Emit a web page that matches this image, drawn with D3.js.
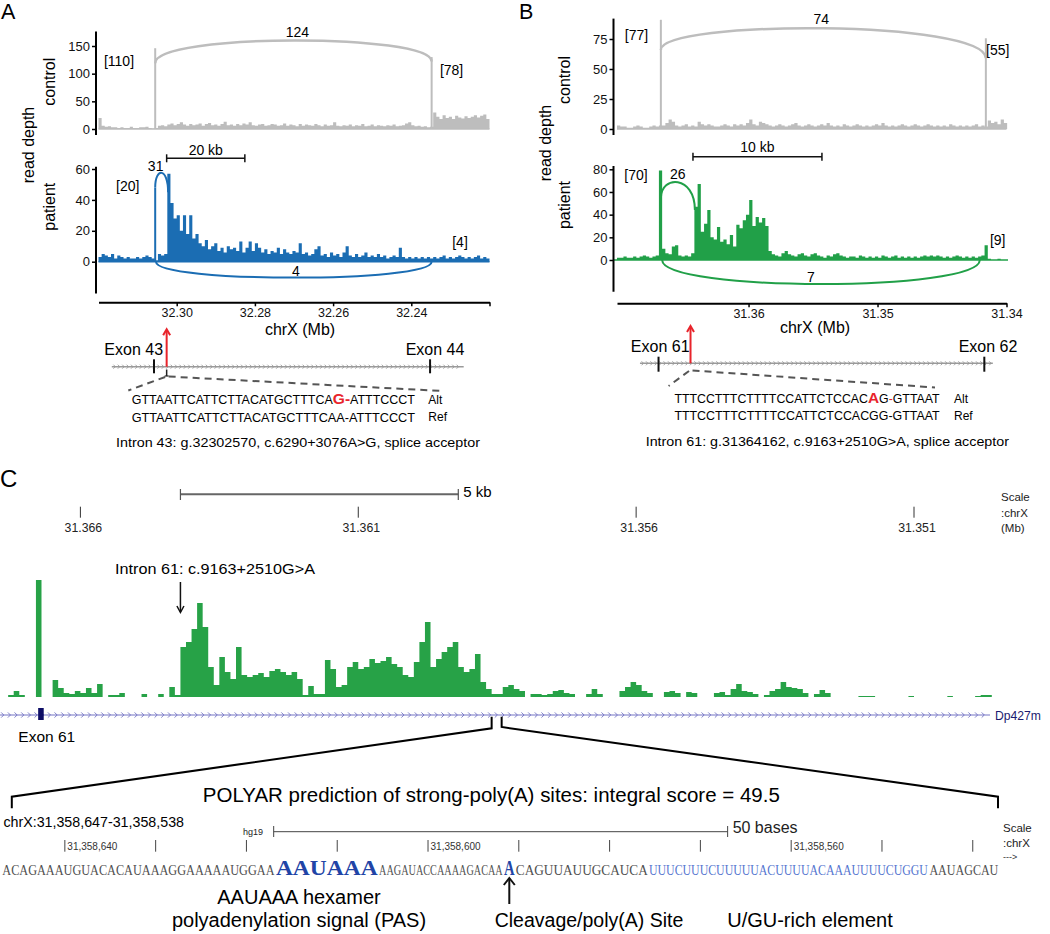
<!DOCTYPE html>
<html><head><meta charset="utf-8">
<script src="https://cdn.jsdelivr.net/npm/d3@7"></script>
<style>
html,body{margin:0;padding:0;background:#fff}
svg{display:block}
</style></head><body>
<svg id="fig" width="1050" height="934"></svg>
<script>
// ---------------- DATA ----------------
// Panel A (intron 43), coverage bins of 0.8 kb starting at 32.32 Mb going down
const aStart = 32.32, aStep = 0.0008;
const aControl = [20,6,4,5,3,3,2,3,2,2,4,2,2,3,3,4,2,1,2,
 6,7,5,8,10,7,9,12,8,6,9,7, 8,10,6,9,11,7,8,6,9,13,7,8, 6,9,7,10,8,12,7,6,8,9,6,7,
 9,8,6,7,10,6,8,7,5,9,6,8, 7,6,9,7,5,8,6,7,12,6,5,7, 6,8,5,7,6,9,5,6,8,5,7,6,
 5,7,6,8,5,6,7,10,12,7,5,6, 4,5,3,4,
 30,22,18,25,20,22,18,24,21,19,23,20,22,25,21,24,26,18];
const aPatient = [3,5,4,3,5,2,4,3,2,3,2,2,3,2,3,4,3,2, 1, 5,4,5, 57,
 38,28,30,20,30,18,30,15,18,12,10,14,8,
 10,12,7,9,6,10,8,9,7,13,6,9,13,7,12,9,6,8,5,7,6,9,5,8,6,5,7,6,12,5,6,
 4,5,8,10,4,5,3,6,4,5,3,6,10,4,3,5,3,4,6,3,4,3,5,3,4,2,3,4,3,9,3,2,3,2,3,2,3,2,3,2,
 3,2,3,4,2,3,2,3,4,3,2,3,2,3,4,2,3,2];
const aTicks = [32.30, 32.28, 32.26, 32.24, 32.22];
const aTickLabels = ["32.30", "32.28", "32.26", "32.24", ""];
const aControlTicks = [0, 50, 100, 150];
const aPatientTicks = [0, 20, 40, 60];
// exon-edge spikes [position Mb, depth]
const aControlSpikes = [[32.3055, 146], [32.2348, 130]];
const aPatientSpikes = [[32.3055, 48]];
// junctions [from Mb, to Mb, start depth, end depth, apex depth, reads]
const aControlArcs = [[32.3055, 32.2348, 119, 122, 160, 124]];
const aPatientArcs = [[32.3055, 32.3022, 48, 45, 57.5, 31], [32.3053, 32.2348, 0, 0, -10.3, 4]];
const aExons = [["Exon 43", 32.3058], ["Exon 44", 32.2352]];
const aVariant = 32.30257;
const aSeqAlt = ["GTTAATTCATTCTTACATGCTTTCA", "G-", "ATTTCCCT"];
const aSeqRef = "GTTAATTCATTCTTACATGCTTTCAA-ATTTCCCT";
const aCaption = "Intron 43: g.32302570, c.6290+3076A>G, splice acceptor";

// Panel B (intron 61), bins of 0.25 kb starting at 31.3702 Mb
const bStart = 31.3702, bStep = 0.00025;
const bControl = [3,2,2,1,1,2,3,2,1,1,2,3,2, 3,
 3,5,8,6,3,2,3,4,2,3,2,6, 4,3,4,3,2,2,3,4,3,2,4,3, 4,3,5,8,4,3,6,5,4,3,2,3,
 4,3,2,3,4,5,3,2,3,4,3,2, 3,4,3,5,3,2,3,2,4,3,2,3, 4,3,2,3,2,3,4,3,5,3,2,3,
 2,3,4,3,2,3,4,3,2,3,4,3, 2,3,2,3,2,4,3,2,3,2,3,2, 3,4,2,3,2,
 7,5,6,4,8,5];
const bPatient = [2,2,3,2,2,3,2,3,4,3,2,3,4, 79,
 10,6,5,12,13,4,3,4,3,6,
 47,67,25,32,44,20,18,29,16,18,14,22,12,31,28,35,40,53,30,38,33,37,30,8,5,
 4,3,6,8,5,4,3,5,6,4,3,5, 6,4,3,2,4,3,5,6,4,3,2,3, 3,2,4,3,2,3,2,3,2,4,3,2,
 3,4,2,3,2,3,2,3,2,3,4,3, 4,3,4,3,2,3,2,3,4,3,2,3, 2,3,2,3,4, 13,
 1,0,0,1,0,0];
const bTicks = [31.36, 31.35, 31.34];
const bTickLabels = ["31.36", "31.35", "31.34"];
const bControlTicks = [0, 25, 50, 75];
const bPatientTicks = [0, 20, 40, 60, 80];
const bControlSpikes = [[31.3668, 91], [31.3416, 75.6]];
const bPatientSpikes = [];
const bControlArcs = [[31.3668, 31.3416, 65.8, 58.9, 83.9, 74]];
const bPatientArcs = [[31.3668, 31.36416, 54.4, 44.1, 68.6, 26], [31.3667, 31.34207, 0, 0, -21.2, 7]];
const bExons = [["Exon 61", 31.36698], ["Exon 62", 31.34172]];
const bVariant = 31.3645;
const bSeqAlt = ["TTTCCTTTCTTTTCCATTCTCCAC", "A", "G", "-", "GTTAAT"];
const bSeqRef = "TTTCCTTTCTTTTCCATTCTCCACGG-GTTAAT";
const bCaption = "Intron 61: g.31364162, c.9163+2510G>A, splice acceptor";

// Panel C, bins of 100 bp starting at 31.3674 Mb
const cStart = 31.3674, cStep = 0.0001;
const cCoverage = [0,2,6,2,0,0,117,0,0,17,9,4,3,6,4,9,4,13,0,2,2,4,0,0,0,3,0,0,3,0,10,2,
 50,55,68,94,70,30,12,40,25,18,50,22,20,22,24,20,26,28,25,22,25,18,2,11,3,3,
 37,28,10,12,30,35,28,30,38,34,36,40,33,30,22,20,35,55,75,30,38,45,50,55,30,25,28,43,15,8,
 3,3,10,12,8,6,0,3,3,2,3,6,7,4,3,0,0,3,8,3,0,0,0,6,10,15,12,6,4,0,0,5,6,4,0,5,4,0,0,0,
 4,5,2,8,13,6,5,3,0,2,6,8,15,10,9,8,4,0,3,7,4,0,0,0,0,0,1,1,1,0,0,0,0,0,0,1,0,0,0,0,0,0,1,0,0,0,0,1,2,2];
const cTicks = [31.366, 31.361, 31.356, 31.351];
const cVariant = 31.3642;
const cExon61 = [31.36676, 31.36666];
const cZoomRegion = [31.3586, 31.35842];
// sequence (chrX:31,358,647-31,358,538)
const seqSegments = [
  ["ACAGAAAUGUACACAUAAAGGAAAAAUGGAA", "plain"],
  ["AAUAAA", "pas"],
  ["AAGAUACCAAAAGACAA", "plain"],
  ["A", "pas"],
  ["CAGUUAUUGCAUCA", "plain"],
  ["UUUCUUUCUUUUUACUUUUACAAAUUUUCUGGU", "gu"],
  ["AAUAGCAU", "plain"]
];
const rulerTicks = [31358640,31358630,31358620,31358610,31358600,31358590,31358580,31358570,31358560,31358550,31358540];
const rulerLabels = ["31,358,640","","","","31,358,600","","","","31,358,560","",""];
const fiftyBases = [31358617, 31358567];

// ---------------- DRAWING ----------------
const FONT = '"Liberation Sans", Arial, Helvetica, sans-serif';
const SERIF = '"Liberation Serif", "Times New Roman", serif';
const GRAY = "#bdbdbd", BLUE = "#1b6db3", GREEN = "#21a048", CGREEN = "#27a247";
const svg = d3.select("#fig");
svg.append("rect").attr("width",1050).attr("height",934).attr("fill","#fff");

function txt(g, x, y, s, o = {}) {
  const t = g.append("text").attr("x", x).attr("y", y).text(s)
    .attr("font-family", o.family || FONT).attr("font-size", o.size || 14)
    .attr("fill", o.fill || "#000").attr("text-anchor", o.anchor || "middle");
  if (!o.alpha) t.attr("dominant-baseline", "central");
  if (o.len) t.attr("textLength", o.len).attr("lengthAdjust", "spacingAndGlyphs");
  if (o.weight) t.attr("font-weight", o.weight);
  if (o.rotate) t.attr("transform", `rotate(-90 ${x} ${y})`);
  return t;
}
function line(g, x1, y1, x2, y2, stroke, w, dash) {
  const l = g.append("line").attr("x1", x1).attr("y1", y1).attr("x2", x2).attr("y2", y2)
    .attr("stroke", stroke).attr("stroke-width", w);
  if (dash) l.attr("stroke-dasharray", dash);
  return l;
}
function coverage(g, values, start, step, x, y, color) {
  const pts = values.map((v, i) => [start - i * step, v]);
  pts.push([start - values.length * step, values[values.length - 1]]);
  const area = d3.area().x(d => x(d[0])).y0(y(0)).y1(d => y(d[1])).curve(d3.curveStepAfter);
  g.append("path").attr("d", area(pts)).attr("fill", color);
}
function arcs(g, list, x, y, color, w, labelOffsets) {
  list.forEach(a => {
    const x1 = x(a[0]), x2 = x(a[1]), y1 = y(a[2]), y2 = y(a[3]), yp = y(a[4]);
    const c = (8 * yp - y1 - y2) / 6;
    g.append("path").attr("d", `M${x1},${y1}C${x1},${c} ${x2},${c} ${x2},${y2}`)
      .attr("fill", "none").attr("stroke", color).attr("stroke-width", w);
    const off = labelOffsets[a[5]] || [0, -8];
    txt(g, (x1 + x2) / 2 + off[0], yp + off[1], String(a[5]), {size: 14});
  });
}
function spikes(g, list, x, y, color, w) {
  list.forEach(s => line(g, x(s[0]), y(0), x(s[0]), y(s[1]), color, w));
}
function yAxis(x0, y, ticks, ext) {
  const g = svg.append("g").attr("transform", `translate(${x0},0)`)
    .call(d3.axisLeft(y).tickValues(ticks).tickSize(4).tickPadding(2).tickSizeOuter(0));
  g.select(".domain").remove();
  g.selectAll(".tick line").attr("stroke-width", 1.5);
  g.selectAll(".tick text").attr("font-family", FONT).attr("font-size", 13).attr("fill", "#111");
  line(g, 0, y(ext[0]), 0, y(ext[1]), "#000", 2);
}
function xAxis(y0, x, ticks, labels) {
  const g = svg.append("g").attr("transform", `translate(0,${y0})`)
    .call(d3.axisBottom(x).tickValues(ticks).tickSize(4).tickPadding(2).tickSizeOuter(0)
      .tickFormat((d, i) => labels[i]));
  g.select(".domain").attr("stroke-width", 2);
  g.selectAll(".tick line").attr("stroke-width", 1.5);
  g.selectAll(".tick text").attr("font-family", FONT).attr("font-size", 12.5).attr("fill", "#111");
}
function scaleBar(g, x1, x2, y, label, ly) {
  line(g, x1, y, x2, y, "#111", 1.5);
  line(g, x1, y - 4, x1, y + 4, "#111", 1.5);
  line(g, x2, y - 4, x2, y + 4, "#111", 1.5);
  txt(g, (x1 + x2) / 2, ly, label, {size: 14});
}
function geneLine(g, x1, x2, y, color, spacing, size, w) {
  line(g, x1, y, x2, y, color, w);
  const p = d3.path();
  d3.range(x1 + 3, x2 - 2, spacing).forEach(cx => {
    p.moveTo(cx - size * 0.7, y - size); p.lineTo(cx + size * 0.3, y); p.lineTo(cx - size * 0.7, y + size);
  });
  g.append("path").attr("d", p.toString()).attr("fill", "none").attr("stroke", color).attr("stroke-width", 0.9);
}
function seqRow(g, x, yBase, parts, len, styleFn) {
  const t = g.append("text").attr("x", x).attr("y", yBase).attr("font-family", FONT).attr("font-size", 12)
    .attr("textLength", len).attr("lengthAdjust", "spacingAndGlyphs");
  parts.forEach((p, i) => {
    const s = styleFn(i);
    const ts = t.append("tspan").text(p).attr("fill", s.fill || "#000");
    if (s.size) ts.attr("font-size", s.size);
    if (s.weight) ts.attr("font-weight", s.weight);
  });
}
function redArrowUp(g, x, y1, y2) {
  line(g, x, y1, x, y2 + 1, "#e8242b", 2);
  g.append("path").attr("d", `M${x - 3.5},${y2 + 6}L${x},${y2}L${x + 3.5},${y2 + 6}`)
    .attr("fill", "none").attr("stroke", "#e8242b").attr("stroke-width", 2);
}

// ---------- Panel A ----------
const xA = d3.scaleLinear().domain([32.32, 32.22]).range([98.5, 489.5]);
const yAc = d3.scaleLinear().domain([0, 150]).range([129, 46]);
const yAp = d3.scaleLinear().domain([0, 60]).range([261.7, 169]);
const gA = svg.append("g");
txt(gA, 1, 18.5, "A", {size: 21.5, anchor: "start", alpha: true});
txt(gA, 28.3, 145, "read depth", {size: 16, rotate: true});
txt(gA, 50, 81.7, "control", {size: 16, rotate: true});
txt(gA, 50, 206.7, "patient", {size: 16, rotate: true});
coverage(gA, aControl, aStart, aStep, xA, yAc, GRAY);
line(gA, xA(aStart), yAc(0), xA(32.22), yAc(0), GRAY, 1.5);
spikes(gA, aControlSpikes, xA, yAc, GRAY, 2);
arcs(gA, aControlArcs, xA, yAc, GRAY, 2.5, {124: [4, -8.5]});
coverage(gA, aPatient, aStart, aStep, xA, yAp, BLUE);
line(gA, xA(aStart), yAp(0), xA(32.22), yAp(0), BLUE, 1.5);
spikes(gA, aPatientSpikes, xA, yAp, BLUE, 2);
arcs(gA, aPatientArcs, xA, yAp, BLUE, 2, {31: [-6, -7], 4: [2, -7]});
txt(gA, xA(32.31476), yAc(123.4), "[110]", {size: 14});
txt(gA, xA(32.2297), yAc(106.6), "[78]", {size: 14});
txt(gA, xA(32.31253), yAp(49.2), "[20]", {size: 14});
txt(gA, xA(32.22754), yAp(12.6), "[4]", {size: 14});
yAxis(96, yAc, aControlTicks, [-10.8, 176]);
yAxis(96, yAp, aPatientTicks, [-20.6, 61.5]);
xAxis(302.3, xA, aTicks, aTickLabels);
txt(gA, 300, 329.5, "chrX (Mb)", {size: 16});
scaleBar(gA, xA(aVariant), xA(aVariant - 0.02), 158.3, "20 kb", 149.5);
// exon diagram A
geneLine(gA, xA(32.3166), xA(32.2266), 366.7, "#9a9a9a", 4.4, 2, 1.5);
aExons.forEach(e => {
  line(gA, xA(e[1]), 359.3, xA(e[1]), 373.3, "#111", 2);
});
txt(gA, 133.7, 349.3, aExons[0][0], {size: 16});
txt(gA, 435, 349.3, aExons[1][0], {size: 16});
redArrowUp(gA, xA(aVariant), 366.7, 329.3);
line(gA, xA(aVariant), 369.5, xA(aVariant), 376, "#222", 1.5);
line(gA, xA(aVariant) - 2, 376, xA(aVariant) + 2, 376, "#222", 1.2);
line(gA, xA(aVariant) - 1.5, 377, 128.3, 390.5, "#555", 2, "7,5");
line(gA, xA(aVariant) + 2, 376.5, 441.7, 391, "#555", 2, "7,5");
seqRow(gA, 131.7, 404.3, aSeqAlt, 283.3, i => i === 1 ? {fill: "#e8242b", weight: "bold", size: 15} : {});
seqRow(gA, 131.7, 421.6, [aSeqRef], 283.3, () => ({}));
txt(gA, 428.3, 400, "Alt", {size: 12, anchor: "start"});
txt(gA, 428.3, 417.3, "Ref", {size: 12, anchor: "start"});
txt(gA, 116, 442.7, aCaption, {size: 13.5, anchor: "start", len: 364});

// ---------- Panel B ----------
const xB = d3.scaleLinear().domain([31.3702, 31.34]).range([617, 1006.5]);
const yBc = d3.scaleLinear().domain([0, 75]).range([129, 39]);
const yBp = d3.scaleLinear().domain([0, 80]).range([260, 169.3]);
const gB = svg.append("g");
txt(gB, 519, 18.5, "B", {size: 21.5, anchor: "start", alpha: true});
txt(gB, 545, 143, "read depth", {size: 16, rotate: true});
txt(gB, 564, 80, "control", {size: 16, rotate: true});
txt(gB, 564, 205, "patient", {size: 16, rotate: true});
coverage(gB, bControl, bStart, bStep, xB, yBc, GRAY);
line(gB, xB(bStart), yBc(0), xB(31.34), yBc(0), GRAY, 1.5);
spikes(gB, bControlSpikes, xB, yBc, GRAY, 2);
arcs(gB, bControlArcs, xB, yBc, GRAY, 2.5, {74: [-2, -9]});
coverage(gB, bPatient, bStart, bStep, xB, yBp, GREEN);
line(gB, xB(bStart) - 3, yBp(0), xB(31.34) + 1.5, yBp(0), GREEN, 1.5);
spikes(gB, bPatientSpikes, xB, yBp, GREEN, 2);
arcs(gB, bPatientArcs, xB, yBp, GREEN, 2, {26: [0, -8.3], 7: [-10, -6.7]});
txt(gB, xB(31.36869), yBc(78.3), "[77]", {size: 14});
txt(gB, xB(31.34068), yBc(65.8), "[55]", {size: 14});
txt(gB, xB(31.36873), yBp(75), "[70]", {size: 14});
txt(gB, xB(31.34068), yBp(17.6), "[9]", {size: 14});
yAxis(613.5, yBc, bControlTicks, [-5, 92]);
yAxis(613.5, yBp, bPatientTicks, [-28, 82.9]);
xAxis(303.3, xB, bTicks, bTickLabels);
txt(gB, 815, 327, "chrX (Mb)", {size: 16});
scaleBar(gB, xB(31.36431), xB(31.35431), 156.7, "10 kb", 147);
geneLine(gB, xB(31.36842), xB(31.34106), 363.3, "#9a9a9a", 4.4, 2, 1.5);
bExons.forEach(e => line(gB, xB(e[1]), 356.7, xB(e[1]), 371.7, "#111", 2));
txt(gB, 660.2, 346.7, bExons[0][0], {size: 16});
txt(gB, 988, 346.7, bExons[1][0], {size: 16});
redArrowUp(gB, xB(bVariant), 363.3, 326);
line(gB, xB(bVariant) - 1.5, 371, 668.6, 386, "#555", 2, "7,5");
line(gB, xB(bVariant) + 2, 370.5, 935, 387.5, "#555", 2, "7,5");
seqRow(gB, 674.4, 403.3, bSeqAlt, 265.2, i => i === 1 ? {fill: "#e8242b", weight: "bold", size: 15} : (i === 3 ? {fill: "#e8242b"} : {}));
seqRow(gB, 674.4, 420, [bSeqRef], 265.2, () => ({}));
txt(gB, 954, 399, "Alt", {size: 12, anchor: "start"});
txt(gB, 954, 415.7, "Ref", {size: 12, anchor: "start"});
txt(gB, 645.7, 441.7, bCaption, {size: 13.5, anchor: "start", len: 363.3});

// ---------- Panel C ----------
const xC = d3.scaleLinear().domain([31.366, 31.351]).range([80.4, 914]);
const yC = d3.scaleLinear().domain([0, 117]).range([697, 580]);
const gC = svg.append("g");
txt(gC, 0, 487, "C", {size: 24, anchor: "start", alpha: true});
// scale bar 5 kb
line(gC, xC(cVariant), 494.3, xC(cVariant - 0.005), 494.3, "#666", 2);
line(gC, xC(cVariant), 489, xC(cVariant), 500, "#555", 1.2);
line(gC, xC(cVariant - 0.005), 489, xC(cVariant - 0.005), 500, "#555", 1.2);
txt(gC, xC(cVariant - 0.005) + 5, 491, "5 kb", {size: 15, anchor: "start"});
cTicks.forEach(t => {
  line(gC, xC(t), 506.7, xC(t), 517.7, "#333", 1);
  txt(gC, xC(t) + 3, 527.7, d3.format(".3f")(t), {size: 12.3, fill: "#222"});
});
txt(gC, 1001, 497, "Scale", {size: 11.5, anchor: "start", fill: "#222"});
txt(gC, 1001, 512.7, ":chrX", {size: 11.5, anchor: "start", fill: "#222"});
txt(gC, 1001, 527.7, "(Mb)", {size: 11.5, anchor: "start", fill: "#222"});
coverage(gC, cCoverage, cStart, cStep, xC, yC, CGREEN);
txt(gC, 115, 568.3, "Intron 61: c.9163+2510G>A", {size: 15, anchor: "start", len: 200});
line(gC, xC(cVariant), 582, xC(cVariant), 612, "#111", 1.5);
gC.append("path").attr("d", `M${xC(cVariant) - 3.5},${606}L${xC(cVariant)},${612.5}L${xC(cVariant) + 3.5},${606}`)
  .attr("fill", "none").attr("stroke", "#111").attr("stroke-width", 1.5);
geneLine(gC, 0, 990, 715, "#7474c4", 6.67, 2.6, 1);
gC.append("rect").attr("x", xC(cExon61[0])).attr("y", 708).attr("width", xC(cExon61[1]) - xC(cExon61[0])).attr("height", 12).attr("fill", "#0d0d66");
txt(gC, 995, 715.5, "Dp427m", {size: 13.5, anchor: "start", fill: "#1a1a70", len: 46});
txt(gC, 18.3, 736, "Exon 61", {size: 15.5, anchor: "start"});
// zoom brackets
const zl = xC(cZoomRegion[0]), zr = xC(cZoomRegion[1]);
gC.append("path").attr("d", `M${zl},716.7V728.3L11.8,796.7V808.3`).attr("fill", "none").attr("stroke", "#000").attr("stroke-width", 2);
gC.append("path").attr("d", `M${zr},716.7V727L998,796.7V808.3`).attr("fill", "none").attr("stroke", "#000").attr("stroke-width", 2);
txt(gC, 491.3, 795, "POLYAR prediction of strong-poly(A) sites: integral score = 49.5", {size: 20, len: 577});
txt(gC, 3.4, 821.7, "chrX:31,358,647-31,358,538", {size: 14, anchor: "start", len: 180.6});
// base ruler
const xS = d3.scaleLinear().domain([31358647, 31358537]).range([1.3, 1000]);
txt(gC, 243, 832, "hg19", {size: 9, anchor: "start", fill: "#222"});
line(gC, xS(fiftyBases[0]), 831.7, xS(fiftyBases[1]), 831.7, "#444", 1);
line(gC, xS(fiftyBases[0]), 826, xS(fiftyBases[0]), 837, "#444", 1);
line(gC, xS(fiftyBases[1]), 826, xS(fiftyBases[1]), 837, "#444", 1);
txt(gC, xS(fiftyBases[1]) + 5, 827, "50 bases", {size: 16, anchor: "start", fill: "#222"});
rulerTicks.forEach((t, i) => {
  line(gC, xS(t), 840, xS(t), 851.7, "#444", 1);
  if (rulerLabels[i]) txt(gC, xS(t) + 2.5, 846.7, rulerLabels[i], {size: 10, anchor: "start", fill: "#333"});
});
txt(gC, 1003, 828.3, "Scale", {size: 11.5, anchor: "start", fill: "#222"});
txt(gC, 1003, 843.3, ":chrX", {size: 11.5, anchor: "start", fill: "#222"});
txt(gC, 1003, 856.7, "--->", {size: 9, anchor: "start", fill: "#333"});
// sequence: each segment is horizontally scaled (transform) to fill its span
const seqStyle = {
  plain: {size: 15, weight: "normal", fill: "#505050"},
  pas: {size: 20.5, weight: "bold", fill: "#2144a6"},
  gu: {size: 15, weight: "normal", fill: "#5676d0"}
};
const segEdges = [1.7, 275.3, 378.4, 503.4, 515.2, 648.4, 928.8, 999];
seqSegments.forEach(([s, kind], i) => {
  const st = seqStyle[kind];
  const t = gC.append("text").attr("x", 0).attr("y", 0).attr("font-family", SERIF)
    .attr("font-size", st.size).attr("font-weight", st.weight).attr("fill", st.fill).text(s);
  const w = t.node().getComputedTextLength();
  const span = segEdges[i + 1] - segEdges[i] - 1.2;
  t.attr("transform", `translate(${segEdges[i] + 0.6},875) scale(${span / w},1)`);
});
const ax = (segEdges[3] + segEdges[4]) / 2;
line(gC, ax, 878, ax, 904, "#111", 2);
gC.append("path").attr("d", `M${ax - 5.5},${885}L${ax},${878}L${ax + 5.5},${885}`).attr("fill", "none").attr("stroke", "#111").attr("stroke-width", 2);
txt(gC, 299, 896.7, "AAUAAA hexamer", {size: 20});
txt(gC, 299, 920, "polyadenylation signal (PAS)", {size: 20});
txt(gC, 589, 920, "Cleavage/poly(A) Site", {size: 19.5});
txt(gC, 810, 920, "U/GU-rich element", {size: 20});
</script>
</body></html>
